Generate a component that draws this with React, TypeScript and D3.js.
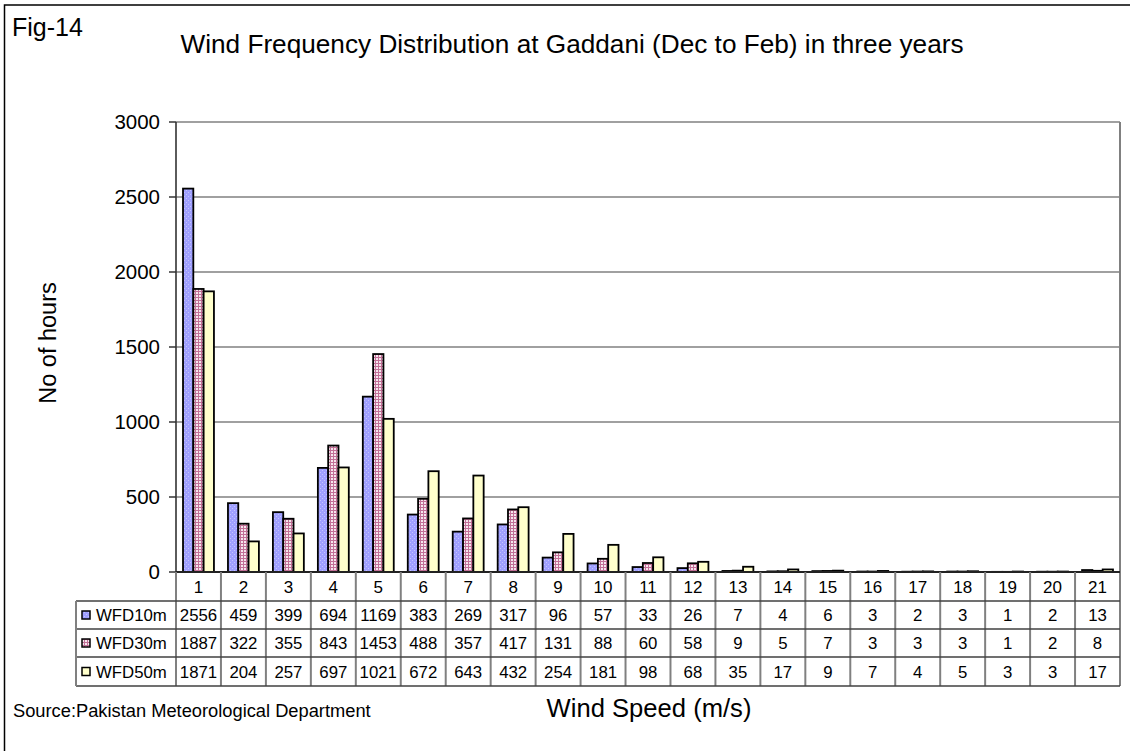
import React from "react";
import * as d3 from "d3";

const categories = ["1","2","3","4","5","6","7","8","9","10","11","12","13","14","15","16","17","18","19","20","21"];
const seriesNames = ["WFD10m", "WFD30m", "WFD50m"];
const wfd10 = [2556,459,399,694,1169,383,269,317,96,57,33,26,7,4,6,3,2,3,1,2,13];
const wfd30 = [1887,322,355,843,1453,488,357,417,131,88,60,58,9,5,7,3,3,3,1,2,8];
const wfd50 = [1871,204,257,697,1021,672,643,432,254,181,98,68,35,17,9,7,4,5,3,3,17];
const yTicks = [0,500,1000,1500,2000,2500,3000];
const seriesValues = [wfd10, wfd30, wfd50];
const fills = ["url(#pBlue)", "url(#pPink)", "url(#pYellow)"];

const FONT = "'Liberation Sans', Arial, sans-serif";

export default function App() {
  const left = 176, right = 1120, top = 122, zero = 572;
  const x = d3.scaleBand<string>().domain(categories).range([left, right]).paddingInner(0).paddingOuter(0);
  const xs = d3.scaleBand<string>().domain(seriesNames).range([0, x.bandwidth()]).paddingInner(0).paddingOuter(0.68);
  const y = d3.scaleLinear().domain([0, 3000]).range([zero, top]);
  const rowTops = [601, 629, 657, 686];
  const legendLeft = 76;
  const gridColor = "#808080";

  return (
    <svg width={1130} height={751} style={{ position: "absolute", left: 0, top: 0, display: "block" }} fontFamily={FONT}>
      <defs>
        <pattern id="pBlue" width={4} height={4} patternUnits="userSpaceOnUse">
          <rect width={4} height={4} fill="#a0a0ff" />
          <rect x={0} y={0} width={1} height={1} fill="#c4c4ff" />
          <rect x={2} y={2} width={1} height={1} fill="#c4c4ff" />
        </pattern>
        <pattern id="pPink" width={3} height={3} patternUnits="userSpaceOnUse">
          <rect width={3} height={3} fill="#f6e6ee" />
          <rect x={0} y={0} width={3} height={1} fill="#c27097" />
          <rect x={0} y={0} width={1} height={3} fill="#c27097" />
        </pattern>
        <pattern id="pYellow" width={4} height={4} patternUnits="userSpaceOnUse">
          <rect width={4} height={4} fill="#ffffcc" />
        </pattern>
      </defs>
      <rect x={0} y={0} width={1130} height={751} fill="#fff" />
      {/* outer chart border */}
      <rect x={4.5} y={5} width={1200} height={800} fill="none" stroke="#000" strokeWidth={1.5} />

      <text x={12} y={36} fontSize={25} fill="#000">Fig-14</text>
      <text x={572} y={53} fontSize={26.2} textAnchor="middle" fill="#000">
        Wind Frequency Distribution at Gaddani (Dec to Feb) in three years
      </text>

      {/* gridlines */}
      {yTicks.filter(t => t > 0).map(t => (
        <line key={t} x1={left} x2={right} y1={y(t)} y2={y(t)} stroke={gridColor} strokeWidth={1.5} />
      ))}
      {/* right border of plot */}
      <line x1={right} x2={right} y1={top} y2={rowTops[3]} stroke={gridColor} strokeWidth={2} />

      {/* y ticks and labels */}
      {yTicks.map(t => (
        <g key={t}>
          <line x1={169} x2={left} y1={y(t)} y2={y(t)} stroke="#333" strokeWidth={1.5} />
          <text x={160} y={y(t)} dy="0.36em" fontSize={20.5} textAnchor="end" fill="#000">{t}</text>
        </g>
      ))}

      {/* bars */}
      {categories.map((c, i) => (
        <g key={c}>
          {seriesNames.map((s, j) => {
            const v = seriesValues[j][i];
            const bx = (x(c) as number) + (xs(s) as number);
            return (
              <rect key={s} x={bx} y={y(v)} width={xs.bandwidth()} height={zero - y(v)}
                fill={fills[j]} stroke="#000" strokeWidth={1.8} />
            );
          })}
        </g>
      ))}

      {/* axes */}
      <line x1={left} x2={left} y1={top} y2={zero} stroke="#333" strokeWidth={1.6} />
      <line x1={left} x2={right} y1={zero} y2={zero} stroke="#222" strokeWidth={1.8} />

      {/* table column separators */}
      {categories.map((c) => (
        <line key={c} x1={x(c)} x2={x(c)} y1={zero} y2={rowTops[3]} stroke={gridColor} strokeWidth={2} />
      ))}
      {/* table row lines */}
      {rowTops.map((ry, k) => (
        <line key={k} x1={legendLeft} x2={right} y1={ry} y2={ry} stroke="#404040" strokeWidth={1.6} />
      ))}
      <line x1={legendLeft} x2={legendLeft} y1={rowTops[0]} y2={rowTops[3]} stroke={gridColor} strokeWidth={2} />

      {/* category labels */}
      {categories.map((c) => (
        <text key={c} x={(x(c) as number) + x.bandwidth() / 2} y={593} fontSize={17} textAnchor="middle" fill="#000">{c}</text>
      ))}

      {/* data rows */}
      {seriesNames.map((s, j) => {
        const cy = (rowTops[j] + rowTops[j + 1]) / 2;
        return (
          <g key={s}>
            <rect x={82} y={cy - 4} width={8} height={8} fill={fills[j]} stroke="#000" strokeWidth={1.5} />
            <text x={96} y={cy} dy="0.36em" fontSize={16.8} fill="#000">{s}</text>
            {categories.map((c, i) => (
              <text key={c} x={(x(c) as number) + x.bandwidth() / 2} y={cy} dy="0.36em" fontSize={16.8} textAnchor="middle" fill="#000">
                {seriesValues[j][i]}
              </text>
            ))}
          </g>
        );
      })}

      {/* axis titles */}
      <text transform="translate(56,343) rotate(-90)" fontSize={23.5} textAnchor="middle" fill="#000">No of hours</text>
      <text x={649} y={717} fontSize={25.6} textAnchor="middle" fill="#000">Wind Speed (m/s)</text>
      <text x={13} y={717} fontSize={18.3} fill="#000">Source:Pakistan Meteorological Department</text>
    </svg>
  );
}
